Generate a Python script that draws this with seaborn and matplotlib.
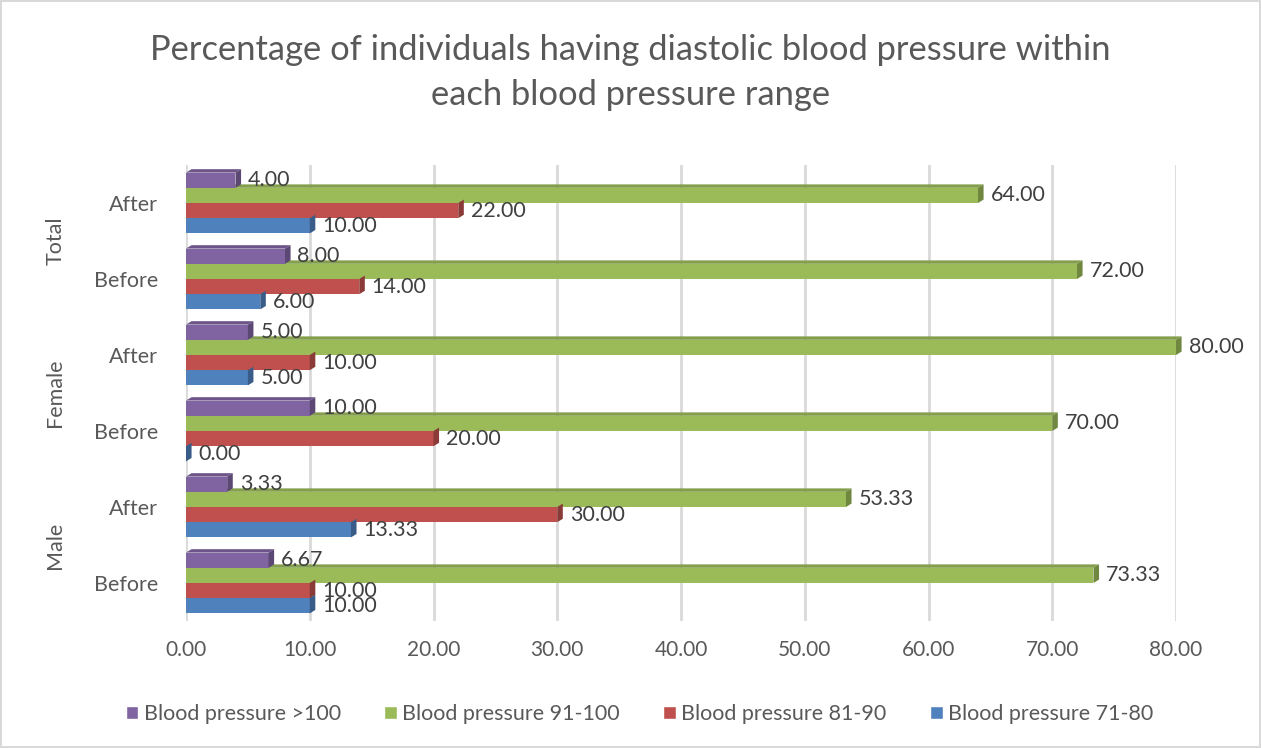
import matplotlib
matplotlib.use("Agg")
import matplotlib.pyplot as plt
import matplotlib.colors as mcolors
from matplotlib.patches import Polygon
import seaborn as sns
import pandas as pd

# Rows of the chart, top to bottom
groups = ["Total", "Total", "Female", "Female", "Male", "Male"]
phases = ["After", "Before", "After", "Before", "After", "Before"]

# Blood pressure ranges (legend order) and their percentages per row
ranges = ["Blood pressure >100", "Blood pressure 91-100",
          "Blood pressure 81-90", "Blood pressure 71-80"]
bp_over_100 = [4.00, 8.00, 5.00, 10.00, 3.33, 6.67]
bp_91_100 = [64.00, 72.00, 80.00, 70.00, 53.33, 73.33]
bp_81_90 = [22.00, 14.00, 10.00, 20.00, 30.00, 10.00]
bp_71_80 = [10.00, 6.00, 5.00, 0.00, 13.33, 10.00]

x_ticks = [0, 10, 20, 30, 40, 50, 60, 70, 80]

colors = ["#8064A2", "#9BBB59", "#C0504D", "#4F81BD"]

rows = [f"{g} {p}" for g, p in zip(groups, phases)]
series = [bp_over_100, bp_91_100, bp_81_90, bp_71_80]
records = []
for name, vals in zip(ranges, series):
    for row, v in zip(rows, vals):
        records.append({"row": row, "range": name, "value": v})
df = pd.DataFrame(records)

sns.set_theme(style="white")
plt.rcParams["font.family"] = ["Lato", "DejaVu Sans"]

fig = plt.figure(figsize=(12.61, 7.48), dpi=100)
fig.patch.set_edgecolor("#d9d9d9")
fig.patch.set_linewidth(1.5)
ax = fig.add_axes([0.1475, 0.1698, 0.7851, 1 - 165 / 748 - 0.1698])

sns.barplot(data=df, y="row", x="value", hue="range", order=rows,
            hue_order=ranges, palette=colors, orient="h", width=0.8,
            linewidth=0, saturation=1, legend=True, ax=ax, zorder=3)

ax.set_xlim(0, 80)
ax.set_ylim(len(rows) - 0.5, -0.5)
ax.set_xticks(x_ticks)
ax.set_xticklabels([f"{t:.2f}" for t in x_ticks], color="#595959", fontsize=15)
ax.set_yticks(range(len(rows)))
ax.set_yticklabels(phases, color="#595959", fontsize=15.5)
ax.tick_params(axis="x", pad=14, length=0)
ax.tick_params(axis="y", pad=20, length=0)
ax.set_xlabel("")
ax.set_ylabel("")
for s in ax.spines.values():
    s.set_visible(False)
ax.grid(axis="x", color="#d9d9d9", linewidth=2, zorder=0)
ax.set_axisbelow(True)

# Pseudo-3D faces: a darker top strip and right-end cap on each bar
dx = 0.45
dy = 0.045
for cont, col in zip(ax.containers, colors):
    dark = tuple(c * 0.72 for c in mcolors.to_rgb(col))
    mid = tuple(c * 0.85 for c in mcolors.to_rgb(col))
    for bar in cont:
        x0 = bar.get_x()
        x1 = x0 + bar.get_width()
        yt = bar.get_y()
        yb = yt + bar.get_height()
        top = Polygon([(x0, yt), (x0 + dx, yt - dy), (x1 + dx, yt - dy), (x1, yt)],
                      closed=True, facecolor=mid, edgecolor="none", zorder=2.5,
                      clip_on=False)
        side = Polygon([(x1, yt), (x1 + dx, yt - dy), (x1 + dx, yb - dy), (x1, yb)],
                       closed=True, facecolor=dark, edgecolor="none", zorder=3.5,
                       clip_on=False)
        ax.add_patch(top)
        ax.add_patch(side)
    labels = ax.bar_label(cont, fmt="%.2f", padding=9, fontsize=15.5,
                          color="#404040")
    for t in labels:
        t.set_zorder(5)
        t.set_clip_on(False)

# Group names beside each pair of rows
for i, g in enumerate(groups[::2]):
    ax.text(-0.132, 1 - (2 * i + 1) / len(rows), g,
            transform=ax.transAxes, rotation=90, ha="center", va="center",
            fontsize=15.5, color="#595959")

ax.get_legend().remove()
handles = [plt.Rectangle((0, 0), 1, 1, facecolor=c) for c in colors]
fig.legend(handles, ranges, loc="center", ncol=4,
           bbox_to_anchor=(0.507, 1 - 714 / 748), frameon=False,
           fontsize=15.5, handlelength=0.6, handleheight=0.6,
           handletextpad=0.25, columnspacing=2.0, labelcolor="#595959")

fig.text(0.5, 1 - 50 / 748, "Percentage of individuals having diastolic blood pressure within",
         ha="center", va="center", fontsize=24.8, color="#595959")
fig.text(0.5, 1 - 95 / 748, "each blood pressure range",
         ha="center", va="center", fontsize=24.8, color="#595959")

fig.savefig("out.png", dpi=100)
